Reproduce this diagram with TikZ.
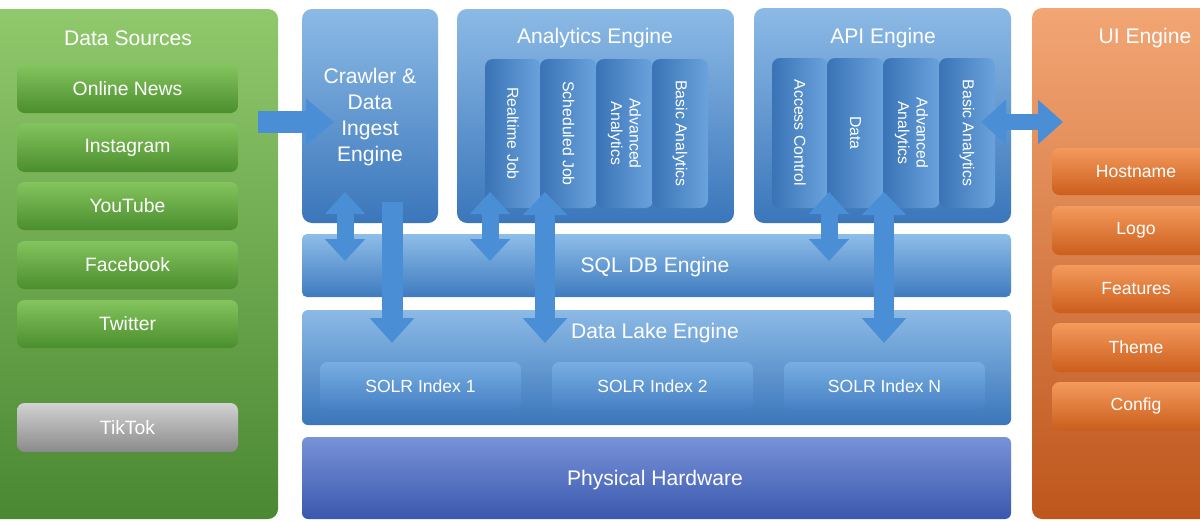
\documentclass[tikz,border=0pt]{standalone}
\usepackage{fontspec}
\setmainfont{Liberation Sans}
\usetikzlibrary{arrows.meta,fit}
\definecolor{gpTop}{HTML}{90C86C}
\definecolor{gpBot}{HTML}{4A8832}
\definecolor{giTop}{HTML}{84C45E}
\definecolor{giBot}{HTML}{4B8E2E}
\definecolor{grTop}{HTML}{D2D2D2}
\definecolor{grBot}{HTML}{8A8A8A}
\definecolor{bpTop}{HTML}{8CBAE6}
\definecolor{bpBot}{HTML}{3A76BA}
\definecolor{colL}{HTML}{3A73B6}
\definecolor{colR}{HTML}{6AA3DC}
\definecolor{sqTop}{HTML}{8EBDE8}
\definecolor{sqBot}{HTML}{3E7BBF}
\definecolor{slTop}{HTML}{78AEE2}
\definecolor{slBot}{HTML}{4680C4}
\definecolor{phTop}{HTML}{7893D8}
\definecolor{phBot}{HTML}{3A57AE}
\definecolor{opTop}{HTML}{F2A674}
\definecolor{opBot}{HTML}{BE561C}
\definecolor{oiTop}{HTML}{F39A5C}
\definecolor{oiBot}{HTML}{CC5E1C}
\definecolor{arrowblue}{HTML}{4A8FD6}
\newcommand\rbox[6]{\node[#1, fit={(#2) (#3)}] (#4) {};\node[#5] (#4t) at (#4.center) {#6};}
\tikzset{
  box/.style={inner sep=0pt, rounded corners=0.2cm},
  ibox/.style={inner sep=0pt, rounded corners=0.15cm},
  ttl/.style={text=white, font=\fontsize{12}{14.7}\selectfont, align=center, inner sep=0pt},
  itm/.style={text=white, font=\fontsize{11}{13}\selectfont, inner sep=0pt},
  uitm/.style={text=white, font=\fontsize{10}{12}\selectfont, inner sep=0pt},
  solrt/.style={text=white, font=\fontsize{10}{12}\selectfont, inner sep=0pt},
  coltxt/.style={text=white, font=\fontsize{9}{10.5}\selectfont, align=center, rotate=-90, inner sep=0pt},
  bluepanel/.style={box, top color=bpTop, bottom color=bpBot},
  greenitem/.style={ibox, top color=giTop, bottom color=giBot},
  grayitem/.style={ibox, top color=grTop, bottom color=grBot},
  orangeitem/.style={ibox, top color=oiTop, bottom color=oiBot},
  colbox/.style={inner sep=0pt, rounded corners=0.16cm, left color=colL, right color=colR},
  solrbox/.style={ibox, top color=slTop, bottom color=slBot},
  harrow/.style={draw=arrowblue, line width=0.44cm, -{Triangle[length=0.56cm,width=0.9cm]}},
  hdbl/.style={draw=arrowblue, line width=0.32cm, {Triangle[length=0.5cm,width=0.86cm]}-{Triangle[length=0.5cm,width=0.86cm]}},
  vdbl/.style={draw=arrowblue, line width=0.34cm, {Triangle[length=0.44cm,width=0.78cm]}-{Triangle[length=0.44cm,width=0.78cm]}},
  vdown/.style={draw=arrowblue, line width=0.42cm, -{Triangle[length=0.5cm,width=0.86cm]}},
  vlong/.style={draw=arrowblue, line width=0.4cm, {Triangle[length=0.46cm,width=0.86cm]}-{Triangle[length=0.5cm,width=0.86cm]}},
}
\begin{document}
\begin{tikzpicture}[x=0.02cm,y=-0.02cm]
\fill[white] (0,0) rectangle (1200,521);
\useasboundingbox (0,0) rectangle (1200,521);

% Data Sources
\node[box, top color=gpTop, bottom color=gpBot, fit={(-14,9) (278,519)}] (ds) {};
\node[ttl] (dst) at (128,38) {Data Sources};
\rbox{greenitem}{17,65}{238,113}{on}{itm}{Online News}
\rbox{greenitem}{17,123}{238,172}{ig}{itm}{Instagram}
\rbox{greenitem}{17,182}{238,230}{yt}{itm}{YouTube}
\rbox{greenitem}{17,241}{238,289}{fb}{itm}{Facebook}
\rbox{greenitem}{17,300}{238,348}{tw}{itm}{Twitter}
\rbox{grayitem}{17,403}{238,452}{tt}{itm}{TikTok}

% Crawler
\node[bluepanel, fit={(302,9) (438,223)}] (cr) {};
\node[ttl] (crt) at (370,117) {Crawler \&\\Data\\Ingest\\Engine};

% Analytics Engine
\node[bluepanel, fit={(457,9) (734,223)}] (an) {};
\node[ttl] (ant) at (595,38) {Analytics Engine};
\rbox{colbox}{485,59}{541,208}{a1}{coltxt}{Realtime Job}
\rbox{colbox}{540,59}{597,208}{a2}{coltxt}{Scheduled Job}
\rbox{colbox}{596,59}{653,208}{a3}{coltxt}{Advanced\\Analytics}
\rbox{colbox}{652,59}{708,208}{a4}{coltxt}{Basic Analytics}

% API Engine
\node[bluepanel, fit={(754,8) (1011,223)}] (api) {};
\node[ttl] (apit) at (883,38) {API Engine};
\rbox{colbox}{772,58}{828,208}{p1}{coltxt}{Access Control}
\rbox{colbox}{827,58}{884,208}{p2}{coltxt}{Data}
\rbox{colbox}{883,58}{940,208}{p3}{coltxt}{Advanced\\Analytics}
\rbox{colbox}{939,58}{995,208}{p4}{coltxt}{Basic Analytics}

% UI Engine
\node[box, top color=opTop, bottom color=opBot, fit={(1032,8) (1220,519)}] (ui) {};
\node[ttl] (uit) at (1145,38) {UI Engine};
\rbox{orangeitem}{1052,148}{1220,195}{u1}{uitm}{Hostname}
\rbox{orangeitem}{1052,206}{1220,255}{u2}{uitm}{Logo}
\rbox{orangeitem}{1052,265}{1220,313}{u3}{uitm}{Features}
\rbox{orangeitem}{1052,323}{1220,372}{u4}{uitm}{Theme}
\rbox{orangeitem}{1052,382}{1220,430}{u5}{uitm}{Config}

% SQL DB
\node[box, rounded corners=0.1cm, top color=sqTop, bottom color=sqBot, fit={(302,234) (1011,297)}] (sql) {};
\node[ttl] (sqlt) at (655,267) {SQL DB Engine};

% Data Lake
\node[box, rounded corners=0.12cm, top color=bpTop, bottom color=bpBot, fit={(302,310) (1011,425)}] (dl) {};
\node[ttl] (dlt) at (655,333) {Data Lake Engine};
\rbox{solrbox}{320,362}{521,410}{s1}{solrt}{SOLR Index 1}
\rbox{solrbox}{552,362}{753,410}{s2}{solrt}{SOLR Index 2}
\rbox{solrbox}{784,362}{985,410}{sn}{solrt}{SOLR Index N}

% Physical Hardware
\node[box, rounded corners=0.12cm, top color=phTop, bottom color=phBot, fit={(302,437) (1011,519)}] (ph) {};
\node[ttl] (pht) at (655,480) {Physical Hardware};

% arrow end points
\coordinate (dsA) at (258,122);
\coordinate (crA) at (334,122);
\coordinate (crS1) at (345,192);
\coordinate (sqS1) at (345,261);
\coordinate (crD1) at (392,202);
\coordinate (dlD1) at (392,343);
\coordinate (anS1) at (490,192);
\coordinate (sqS2) at (490,261);
\coordinate (anL1) at (545,192);
\coordinate (dlL1) at (545,343);
\coordinate (apS1) at (829,192);
\coordinate (sqS3) at (829,261);
\coordinate (apL1) at (884,192);
\coordinate (dlL2) at (884,343);
\coordinate (apU) at (981,122);
\coordinate (uiU) at (1063,122);

\draw[harrow] (dsA) -- (crA);
\draw[vdbl] (crS1) -- (sqS1);
\draw[vdown] (crD1) -- (dlD1);
\draw[vdbl] (anS1) -- (sqS2);
\draw[vlong] (anL1) -- (dlL1);
\draw[vdbl] (apS1) -- (sqS3);
\draw[vlong] (apL1) -- (dlL2);
\draw[hdbl] (apU) -- (uiU);
\end{tikzpicture}
\end{document}
